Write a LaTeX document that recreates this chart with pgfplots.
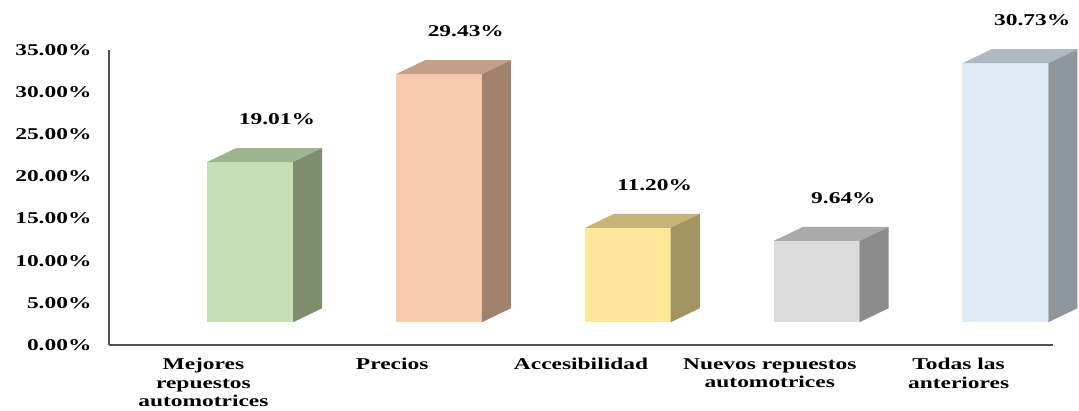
\documentclass[border=0pt]{standalone}
\usepackage{fontspec}
\setmainfont{Liberation Serif}[FakeStretch=1.42]
\usepackage{pgfplots}
\usepackage{pgfplotstable}
\pgfplotsset{compat=1.18}
\definecolor{gF}{HTML}{C5E0B4}\definecolor{gT}{HTML}{9DB48E}\definecolor{gS}{HTML}{7E8F6F}
\definecolor{oF}{HTML}{F8CBAD}\definecolor{oT}{HTML}{C49E86}\definecolor{oS}{HTML}{A0826E}
\definecolor{yF}{HTML}{FFE699}\definecolor{yT}{HTML}{C8B476}\definecolor{yS}{HTML}{A39463}
\definecolor{sF}{HTML}{DBDBDB}\definecolor{sT}{HTML}{AAAAAA}\definecolor{sS}{HTML}{8C8C8C}
\definecolor{bF}{HTML}{DEEBF7}\definecolor{bT}{HTML}{AEB9C4}\definecolor{bS}{HTML}{8E969E}
\definecolor{axc}{HTML}{505050}
\pgfplotstableread{
x v
0 19.01
1 29.43
2 11.20
3 9.64
4 30.73
}\data
% #1 category position, #2 value, #3 front, #4 top, #5 side colour
\newcommand{\bthree}[5]{%
 \pgfmathsetmacro\xa{#1+0.02}%
 \pgfmathsetmacro\xb{#1+0.475}%
 \pgfmathsetmacro\xc{#1+0.475+0.154}%
 \pgfmathsetmacro\xd{#1+0.02+0.154}%
 \pgfmathsetmacro\ya{2.7}%
 \pgfmathsetmacro\yb{#2+2.7}%
 \pgfmathsetmacro\yc{#2+2.7+1.66}%
 \pgfmathsetmacro\yd{2.7+1.66}%
 \edef\tmp{\noexpand\addplot[fill=#3,draw=none] coordinates {(\xa,\ya) (\xb,\ya) (\xb,\yb) (\xa,\yb)} --cycle;
 \noexpand\addplot[fill=#4,draw=none] coordinates {(\xa,\yb) (\xb,\yb) (\xc,\yc) (\xd,\yc)} --cycle;
 \noexpand\addplot[fill=#5,draw=none] coordinates {(\xb,\ya) (\xc,\yd) (\xc,\yc) (\xb,\yb)} --cycle;}%
 \tmp}
\begin{document}
\begin{tikzpicture}
\begin{axis}[
  name=ax,
  scale only axis,
  width=944pt, height=295pt,
  xmin=-0.5, xmax=4.5, ymin=0, ymax=35,
  axis lines=left,
  axis line style={-, draw=axc, line width=1.8pt},
  major tick length=0pt,
  clip=false,
  xtick={0,1,2,3,4},
  xticklabels={{Mejores\\repuestos\\automotrices},{Precios},{Accesibilidad},{Nuevos repuestos\\automotrices},{Todas las\\anteriores}},
  xticklabel style={font=\fontsize{16.5}{18.5}\selectfont\bfseries, align=center, anchor=north, yshift=-10pt},
  ytick={0,5,...,35},
  /pgf/number format/assume math mode=true,
  yticklabel={\pgfmathprintnumber[fixed,fixed zerofill,precision=2]{\tick}\%},
  yticklabel style={font=\fontsize{16.5}{20}\selectfont\bfseries, anchor=east, xshift=-14pt},
]
\bthree{0}{19.01}{gF}{gT}{gS}
\bthree{1}{29.43}{oF}{oT}{oS}
\bthree{2}{11.20}{yF}{yT}{yS}
\bthree{3}{9.64}{sF}{sT}{sS}
\bthree{4}{30.73}{bF}{bT}{bS}
\addplot[draw=none, mark=none, point meta=explicit,
  nodes near coords={\pgfmathprintnumber[fixed,fixed zerofill,precision=2]{\pgfplotspointmeta}\%},
  nodes near coords style={anchor=center, font=\fontsize{16.5}{20}\selectfont\bfseries}]
  table[x expr=\thisrow{x}+0.39, y expr=\thisrow{v}+7.8, meta=v] {\data};
\end{axis}
\useasboundingbox ([shift={(-109pt,-62pt)}]ax.south west) rectangle ([shift={(970pt,345pt)}]ax.south west);
\end{tikzpicture}
\end{document}
